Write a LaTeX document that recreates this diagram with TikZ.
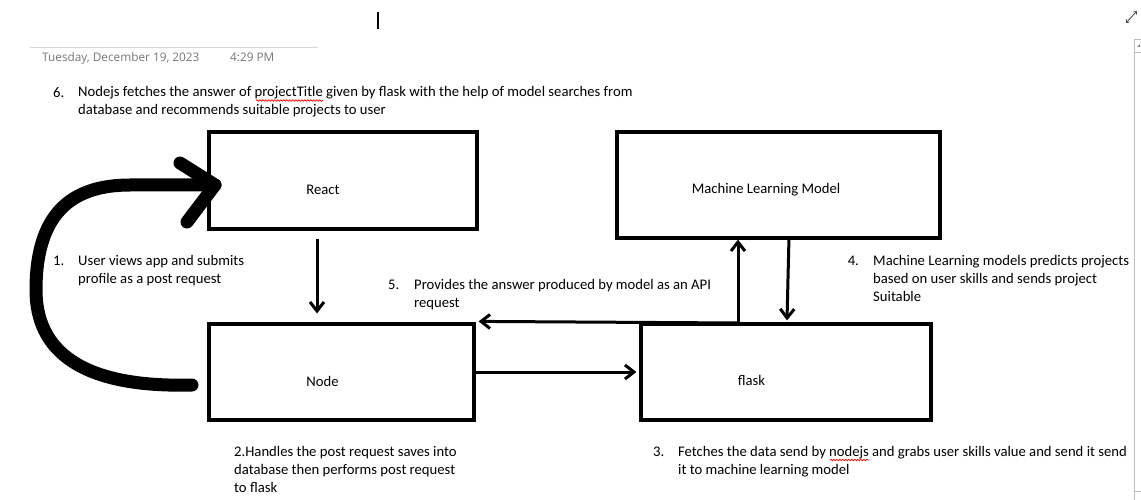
\documentclass[tikz,border=0pt]{standalone}
\usepackage{fontspec}
\setmainfont{Carlito}
\newfontfamily\datefont{Open Sans}
\usepackage{tikz}
\usetikzlibrary{positioning,arrows.meta,decorations.pathmorphing}
\definecolor{dategray}{HTML}{767676}
\definecolor{rulegray}{HTML}{D6D6D6}
\definecolor{bargray}{HTML}{BDBDBD}

\begin{document}
\begin{tikzpicture}[x=1pt,y=-1pt,
font=\fontsize{14.67}{18}\selectfont,
box/.style={draw,rectangle,line width=3.2pt,inner sep=0pt},
txt/.style={anchor=base west,inner sep=0pt,align=left},
arrow/.style={line width=3pt,-{Straight Barb[length=9pt,width=14pt]}},
loop/.style={line width=13pt,line cap=round,line join=round},
spellerr/.style={red,line width=0.7pt,decorate,decoration={snake,amplitude=0.8pt,segment length=3pt}}]
\useasboundingbox (0,0) rectangle (1141,500);

% page header
\draw[rulegray,line width=1pt] (30,47.3) -- (318,47.3);
\node (date) [txt,font=\datefont\fontsize{11.8}{14}\selectfont,text=dategray] at (42,61.7) {Tuesday, December 19, 2023};
\node (time) [txt,font=\datefont\fontsize{11.8}{14}\selectfont,text=dategray] at (230,61.7) {4:29 PM};
\draw[line width=1.2pt] (378,12) -- (378,29);
\draw[black!70,line width=0.8pt,{Straight Barb[length=2.5pt,width=4pt]}-{Straight Barb[length=2.5pt,width=4pt]}] (1126,23) -- (1137,11);
\draw[bargray] (1134.5,39) -- (1134.5,500);
\draw[bargray] (1134.5,39) -- (1141,39) (1134.5,52) -- (1141,52) (1134.5,491) -- (1141,491);
\fill[black!50] (1137,47) -- (1140,47) -- (1140,44) -- cycle;

% note text (base of a node = its last line)
\node (num6) [txt] at (53,97.3) {6.};
\node (step6) [txt] at (78,115) {Nodejs fetches the answer of projectTitle given by flask with the help of model searches from\\database and recommends suitable projects to user};
\draw[spellerr] (256,100.5) -- (323,100.5);

% boxes
\node (react) [box,minimum width=268pt,minimum height=97pt,
    label={[anchor=base,shift={(-20pt,-9pt)}]center:React},
    ] at (343,180.5) {};
\node (mlmodel) [box,minimum width=323pt,minimum height=106pt,
    label={[anchor=base,shift={(-12.5pt,-4.5pt)}]center:Machine Learning Model},
    ] at (778.5,185) {};
\node (node) [box,minimum width=265pt,minimum height=96pt,
    label={[anchor=base,shift={(-19pt,-9.5pt)}]center:Node},
    ] at (341.5,372) {};
\node (flask) [box,minimum width=290pt,minimum height=96pt,
    label={[anchor=base,shift={(-34.5pt,-8.5pt)}]center:flask},
    ] at (786,372) {};

% steps
\node (num1) [txt] at (53,265) {1.};
\node (step1) [txt] at (78,283) {User views app and submits\\profile as a post request};
\node (step2) [txt] at (234,492.7) {2.Handles the post request saves into\\database then performs post request\\to flask};
\node (num3) [txt] at (653,456.7) {3.};
\node (step3) [txt] at (678,474.7) {Fetches the data send by nodejs and grabs user skills value and send it send\\it to machine learning model};
\draw[spellerr] (830,460) -- (869,460);
\node (num4) [txt] at (847.6,265.7) {4.};
\node (step4) [txt] at (873,301.7) {Machine Learning models predicts projects\\based on user skills and sends project\\Suitable};
\node (num5) [txt] at (388,289.3) {5.};
\node (step5) [txt] at (414,307.3) {Provides the answer produced by model as an API\\request};

% connectors
\coordinate (split) at (738,323);
\draw[arrow] ([xshift=-26pt,yshift=-8pt]react.south) -- ([xshift=-24.5pt,yshift=9pt]node.north);
\draw[arrow] (node.east) -- ([xshift=-3pt]flask.west);
\draw[arrow] (split) -- (split |- mlmodel.south);
\draw[arrow] (split) -- ([xshift=3pt,yshift=1pt]node.north east);
\draw[arrow] ([xshift=10.5pt,yshift=3pt]mlmodel.south) -- ([xshift=1pt,yshift=2pt]flask.north);

% hand drawn loop
\coordinate (loopstart) at (192,385);
\coordinate (looptip) at (215,185);
\draw[loop] (loopstart) .. controls (80,388) and (36,350) .. (36,290) .. controls (36,215) and (70,185) .. (130,185) -- (looptip);
\draw[loop] (180,163) -- (looptip) -- (187,222);
\end{tikzpicture}
\end{document}
